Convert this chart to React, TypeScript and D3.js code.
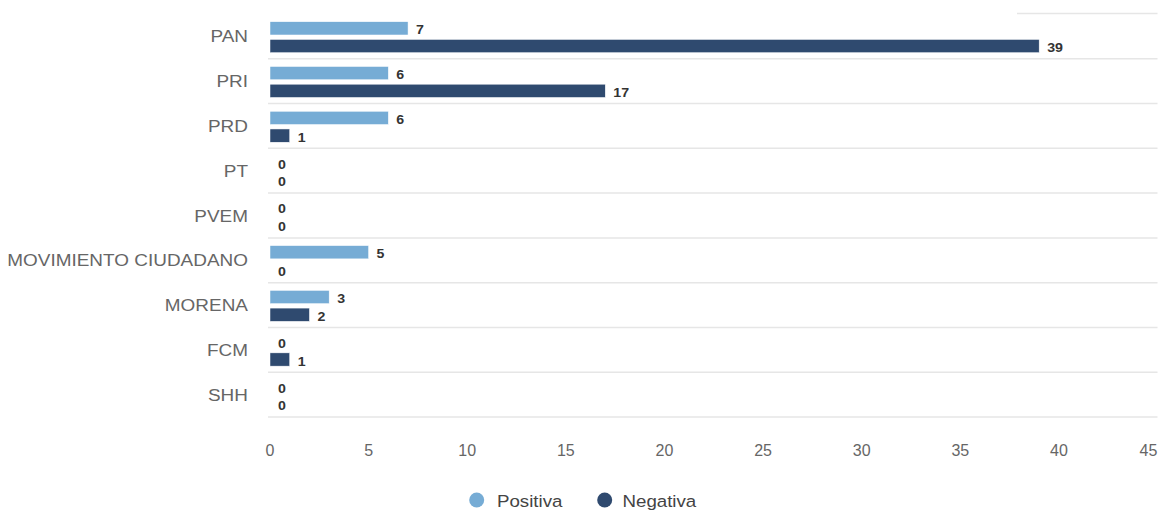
import * as d3 from 'd3'

const categories: string[] = ['PAN', 'PRI', 'PRD', 'PT', 'PVEM', 'MOVIMIENTO CIUDADANO', 'MORENA', 'FCM', 'SHH']
const positiva: number[] = [7, 6, 6, 0, 0, 5, 3, 0, 0]
const negativa: number[] = [39, 17, 1, 0, 0, 0, 2, 1, 0]
const xTicks: number[] = [0, 5, 10, 15, 20, 25, 30, 35, 40, 45]
const seriesNames: string[] = ['Positiva', 'Negativa']

const W = 1160
const H = 510
const left = 270
const right = 1157.5
const top = 14
const bottom = 417
const colors = ['#76acd5', '#2f4a6f']
const FONT = '"Liberation Sans", Arial, sans-serif'

// text rendered a bit wider like the reference screenshot
function Txt(props: { x: number; y: number; sx?: number; anchor?: string; size: number; fill: string; weight?: string; children: any; halo?: boolean }) {
  const { x, y, sx = 1.09, anchor = 'start', size, fill, weight = 'normal', children, halo } = props
  return (
    <text
      transform={`translate(${x},${y}) scale(${sx},1)`}
      textAnchor={anchor}
      fontSize={size}
      fontFamily={FONT}
      fontWeight={weight}
      fill={fill}
      stroke={halo ? '#fff' : undefined}
      strokeWidth={halo ? 2 : undefined}
      paintOrder="stroke"
      strokeLinejoin="round"
    >
      {children}
    </text>
  )
}

export default function App() {
  const x = d3.scaleLinear().domain([0, 45]).range([left, right])
  const y = d3.scaleBand<string>().domain(categories).range([top, bottom]).paddingInner(0).paddingOuter(0)
  const sub = d3.scaleBand<string>().domain(seriesNames).range([7.7, 38.7]).paddingInner(0.25)
  const series = [positiva, negativa]

  return (
    <svg width={W} height={H} style={{ position: 'absolute', left: 0, top: 0, background: '#fff' }}>
      {/* gridlines */}
      <line x1={1017} x2={right} y1={top - 0.5} y2={top - 0.5} stroke="#e6e6e6" strokeWidth={1.5} />
      {categories.map((c) => (
        <line key={c} x1={left - 2} x2={right} y1={(y(c) as number) + y.bandwidth()} y2={(y(c) as number) + y.bandwidth()} stroke="#e6e6e6" strokeWidth={1.5} />
      ))}

      {/* bars */}
      {series.map((vals, si) =>
        vals.map((v, i) => {
          const by = (y(categories[i]) as number) + (sub(seriesNames[si]) as number)
          return (
            <g key={si + '-' + i}>
              {v > 0 && (
                <rect x={x(0)} y={by} width={x(v) - x(0)} height={sub.bandwidth()} fill={colors[si]} stroke="#fff" strokeWidth={0.5} />
              )}
              <Txt x={x(v) + 8} y={by + sub.bandwidth() / 2 + 6} size={13.5} weight="bold" fill="#333" halo sx={1.05}>
                {v}
              </Txt>
            </g>
          )
        })
      )}

      {/* category labels */}
      {categories.map((c) => (
        <Txt key={c} x={248} y={(y(c) as number) + y.bandwidth() / 2 + 6} anchor="end" size={17} fill="#666" sx={1.115}>
          {c}
        </Txt>
      ))}

      {/* x axis labels */}
      {xTicks.map((t, i) => (
        <Txt key={t} x={i === xTicks.length - 1 ? x(t) - 9 : x(t)} y={456} anchor="middle" size={16} fill="#666" sx={1.0}>
          {t}
        </Txt>
      ))}

      {/* legend */}
      <circle cx={476.7} cy={500} r={7.5} fill={colors[0]} />
      <Txt x={497} y={507} size={17} fill="#444" sx={1.1}>{seriesNames[0]}</Txt>
      <circle cx={604.7} cy={500} r={7.5} fill={colors[1]} />
      <Txt x={622.5} y={507} size={17} fill="#444" sx={1.1}>{seriesNames[1]}</Txt>
    </svg>
  )
}
